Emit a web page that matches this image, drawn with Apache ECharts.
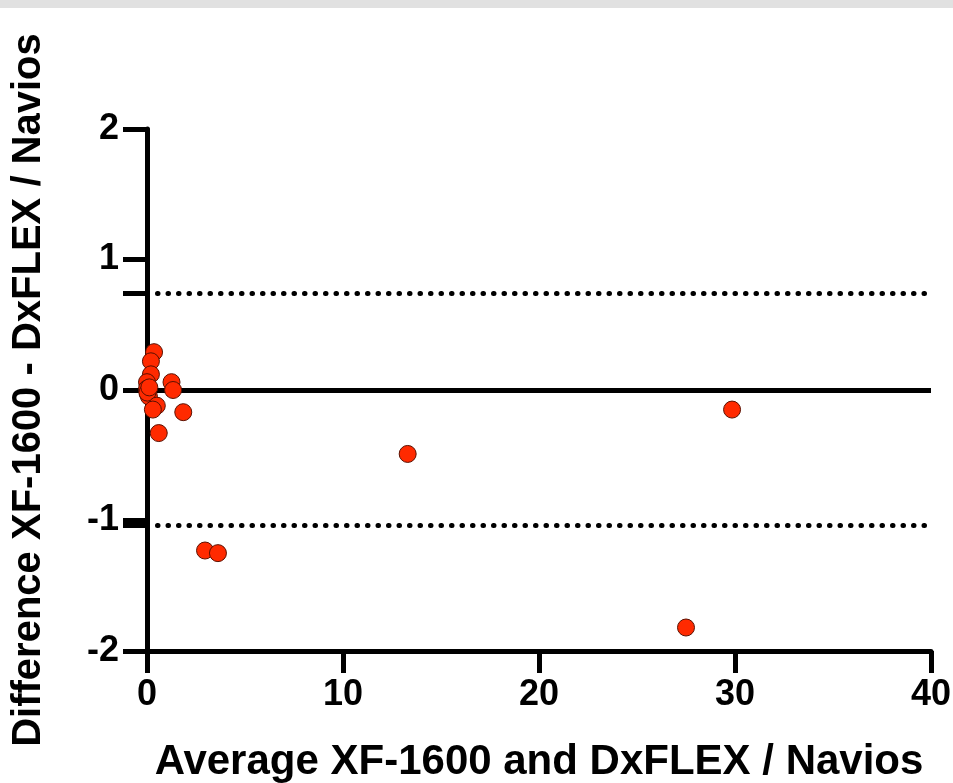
<!DOCTYPE html>
<html>
<head>
<meta charset="utf-8">
<script src="https://cdn.jsdelivr.net/npm/echarts@6/dist/echarts.min.js"></script>
<style>
  html, body { margin: 0; padding: 0; background: #fff; }
  #chart { width: 953px; height: 783px; }
</style>
</head>
<body>
<div id="chart"></div>
<script>
// averages (x) and differences (y)
var avgValues = [0.36, 0.2, 0.2, 0.0, 0.0, 0.05, 0.1, 0.02, 0.12, 0.5, 0.3, 1.85, 0.6, 1.25, 1.33, 2.96, 3.62, 13.3, 29.85, 27.5];
var diffValues = [0.29, 0.22, 0.12, 0.06, 0.01, -0.03, -0.05, -0.02, 0.02, -0.12, -0.15, -0.17, -0.33, 0.06, 0.0, -1.23, -1.25, -0.49, -0.15, -1.82];
var upperLimit = 0.74;
var lowerLimit = -1.04;
var yTicks = [-2, -1, 0, 1, 2];

var points = avgValues.map(function (v, i) { return [v, diffValues[i]]; });

var chart = echarts.init(document.getElementById('chart'));
var labelFont = { fontFamily: 'Liberation Sans', fontWeight: 'bold', fontSize: 36, color: '#000' };

var option = {
  animation: false,
  graphic: [{
    type: 'rect',
    shape: { x: 0, y: 0, width: 953, height: 8 },
    style: { fill: '#e1e1e1' }
  }],
  grid: { left: 147, right: 22, top: 129, bottom: 132, outerBoundsMode: 'none' },
  xAxis: {
    type: 'value',
    min: 0, max: 40, interval: 10,
    name: 'Average XF-1600 and DxFLEX / Navios',
    nameLocation: 'middle',
    nameGap: 90,
    nameTextStyle: { fontFamily: 'Liberation Sans', fontWeight: 'bold', fontSize: 42, color: '#000' },
    axisLine: { onZero: false, lineStyle: { color: '#000', width: 5 } },
    axisTick: { length: 22, lineStyle: { color: '#000', width: 5 } },
    axisLabel: Object.assign({ margin: 26 }, labelFont),
    splitLine: { show: false }
  },
  yAxis: {
    type: 'value',
    min: -2, max: 2, interval: 1,
    name: 'Difference XF-1600 - DxFLEX / Navios',
    nameLocation: 'middle',
    nameGap: 98,
    nameTextStyle: { fontFamily: 'Liberation Sans', fontWeight: 'bold', fontSize: 40, color: '#000' },
    axisLine: { onZero: false, lineStyle: { color: '#000', width: 5 } },
    axisTick: {
      length: 24,
      customValues: yTicks.concat([upperLimit, lowerLimit]),
      lineStyle: { color: '#000', width: 5 }
    },
    axisLabel: Object.assign({ margin: 28, customValues: yTicks }, labelFont),
    splitLine: { show: false }
  },
  series: [{
    type: 'scatter',
    data: points,
    symbol: 'circle',
    symbolSize: 17,
    itemStyle: { color: '#ff2a00', borderColor: '#5a1000', borderWidth: 1, opacity: 1 },
    z: 5,
    markLine: {
      silent: true,
      symbol: 'none',
      label: { show: false },
      data: [
        { yAxis: 0, lineStyle: { color: '#000', width: 5, type: 'solid' } },
        { yAxis: upperLimit, lineStyle: { color: '#000', width: 5, type: [0.5, 10], cap: 'round' } },
        { yAxis: lowerLimit, lineStyle: { color: '#000', width: 5, type: [0.5, 10], cap: 'round' } }
      ]
    }
  }]
};
chart.setOption(option);
</script>
</body>
</html>
